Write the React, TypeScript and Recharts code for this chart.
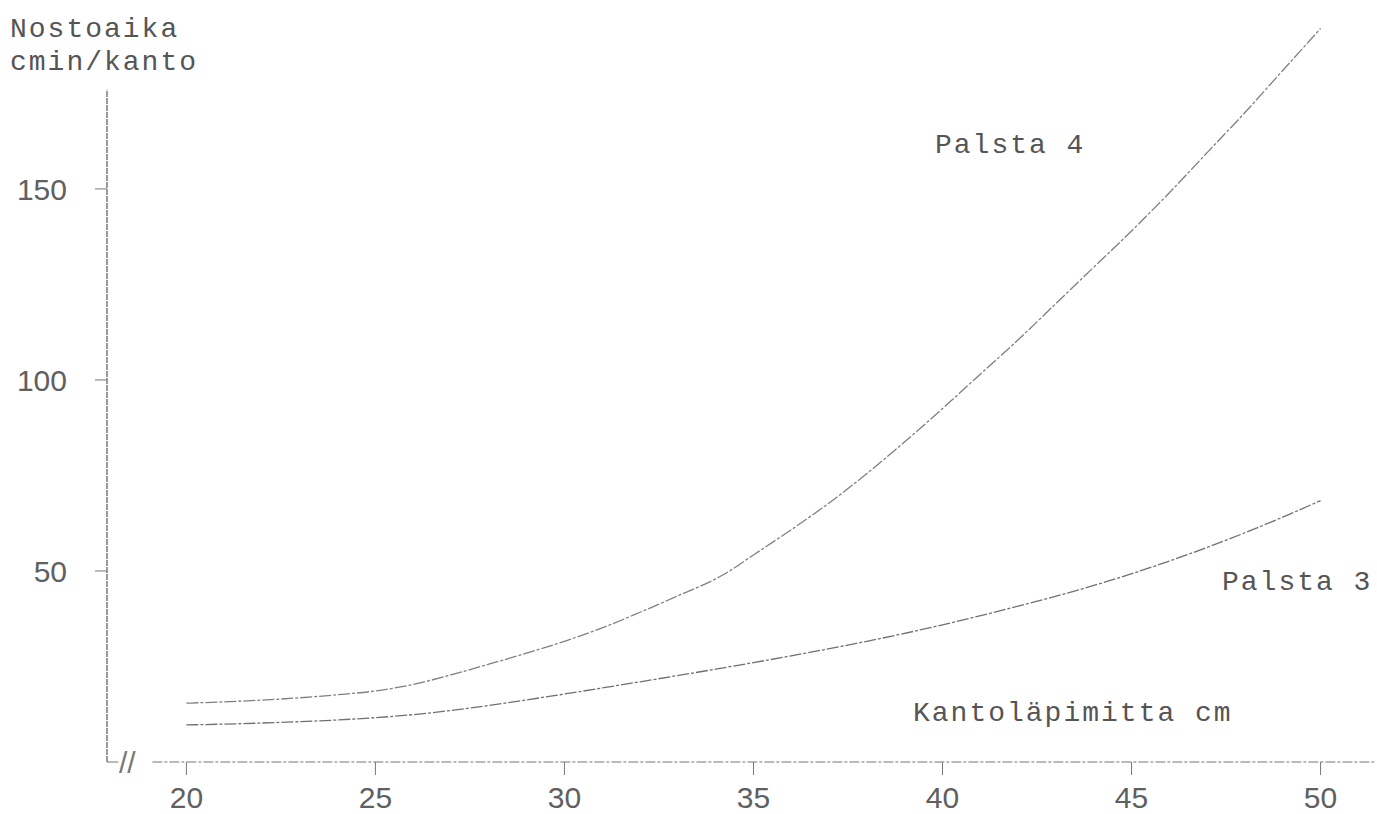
import React from 'react';
import { LineChart, Line, XAxis, YAxis, ReferenceLine } from 'recharts';

// Kantoläpimitta (cm) and nostoaika (cmin/kanto)
const palsta4Diameter = [20, 22, 24, 25, 26, 27, 28, 29, 30, 31, 32, 33, 34.2, 35, 36, 37, 38, 39, 40, 41, 42, 43, 44, 45, 46, 47, 48, 49, 50];
const palsta4Time = [15.4, 16.2, 17.6, 18.6, 20.3, 22.8, 25.6, 28.5, 31.6, 35.1, 39.2, 43.5, 49, 54.2, 60.8, 67.8, 75.5, 83.8, 92.5, 101.5, 110.5, 120, 129.5, 139, 149, 159.5, 170, 181, 192];

const palsta3Diameter = [20, 22, 24, 25, 26, 28, 30, 32, 34, 36, 38, 40, 42, 44, 46, 48, 50];
const palsta3Time = [9.7, 10.2, 11, 11.6, 12.4, 14.8, 17.8, 21, 24.3, 27.8, 31.6, 35.9, 40.8, 46.2, 52.6, 60, 68.4];

const xTicks = [20, 25, 30, 35, 40, 45, 50];
const yTicks = [50, 100, 150];

const toPoints = (xs: number[], ys: number[]) => xs.map((x, i) => ({ x, y: ys[i] }));

const palsta4 = toPoints(palsta4Diameter, palsta4Time);
const palsta3 = toPoints(palsta3Diameter, palsta3Time);

const ink = '#555';
const mono = '"Liberation Mono", "DejaVu Sans Mono", monospace';
const sans = '"Liberation Sans", Arial, sans-serif';

const App: React.FC = () => {
    return (
        <div style={{ position: 'absolute', left: 0, top: 0, width: 1377, height: 814, background: '#fff' }}>
            <LineChart
                width={1377}
                height={814}
                margin={{ top: 17, right: 2, left: 0, bottom: 0 }}
            >
                <XAxis
                    type="number"
                    dataKey="x"
                    domain={[17.9, 51.44]}
                    ticks={xTicks}
                    height={52}
                    axisLine={false}
                    tickSize={13}
                    tickMargin={12}
                    tickLine={{ stroke: '#777', strokeWidth: 1 }}
                    tick={{ fontSize: 30, fill: '#606060', fontFamily: sans }}
                    allowDataOverflow
                />
                <YAxis
                    type="number"
                    domain={[0, 195]}
                    ticks={yTicks}
                    width={107}
                    axisLine={false}
                    tickSize={12}
                    tickMargin={28}
                    tickLine={{ stroke: '#777', strokeWidth: 1 }}
                    tick={{ fontSize: 30, fill: '#606060', fontFamily: sans }}
                    allowDataOverflow
                />
                {/* axes drawn by hand: y stops at ~176, x has a break near the origin */}
                <ReferenceLine segment={[{ x: 17.9, y: 0 }, { x: 17.9, y: 176 }]} stroke="#666" strokeWidth={1.3} strokeDasharray="6 1" />
                <ReferenceLine segment={[{ x: 17.9, y: 0 }, { x: 18.2, y: 0 }]} stroke="#777" strokeWidth={1} />
                <ReferenceLine segment={[{ x: 19.1, y: 0 }, { x: 51.44, y: 0 }]} stroke="#777" strokeWidth={1} strokeDasharray="10 2 3 2" />
                <Line
                    data={palsta4}
                    dataKey="y"
                    type="monotone"
                    stroke="#808080"
                    strokeWidth={1.3}
                    strokeDasharray="12 2 3 2"
                    dot={false}
                    isAnimationActive={false}
                />
                <Line
                    data={palsta3}
                    dataKey="y"
                    type="monotone"
                    stroke="#707070"
                    strokeWidth={1.3}
                    strokeDasharray="12 2 3 2"
                    dot={false}
                    isAnimationActive={false}
                />
            </LineChart>
            {/* typed labels on top of the plot */}
            <svg width={1377} height={814} style={{ position: 'absolute', left: 0, top: 0, pointerEvents: 'none' }}>
                <g fontFamily={mono} fontSize={28} letterSpacing={2} fill={ink}>
                    <text x={10} y={37}>Nostoaika</text>
                    <text x={10} y={70}>cmin/kanto</text>
                    <text x={935} y={153}>Palsta 4</text>
                    <text x={1222} y={590}>Palsta 3</text>
                    <text x={913} y={721}>Kantoläpimitta cm</text>
                </g>
                <text x={119} y={773} fontFamily={sans} fontSize={30} fill="#777">//</text>
            </svg>
        </div>
    );
};

export default App;
